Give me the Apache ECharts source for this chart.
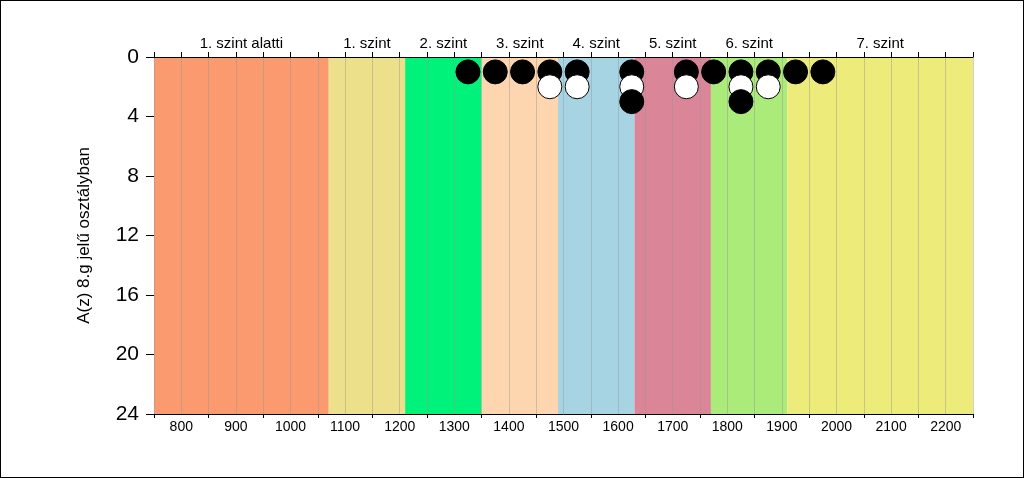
<!DOCTYPE html>
<html>
<head>
<meta charset="utf-8">
<script src="https://cdn.jsdelivr.net/npm/echarts@6/dist/echarts.min.js"></script>
<style>
  html, body { margin: 0; padding: 0; background: #fff; }
  #chart {
    width: 1024px;
    height: 478px;
    box-sizing: border-box;
    border: 1px solid #000;
  }
</style>
</head>
<body>
<div id="chart"></div>
<script>
// szintek (sávok)
const bandNames = ['1. szint alatti', '1. szint', '2. szint', '3. szint', '4. szint', '5. szint', '6. szint', '7. szint'];
const bandEdges = [750, 1070, 1210, 1350, 1490, 1630, 1770, 1910, 2250];
const bandColors = ['#FA9A6E', '#EDE08A', '#00F27A', '#FDD5AE', '#A6D4E3', '#DB8598', '#ABEB7A', '#EDEB7A'];

// tanulók (pontok): x = képességpont, y = sor
const row1Black = [1325, 1375, 1425, 1475, 1525, 1625, 1725, 1775, 1825, 1875, 1925, 1975];
const row2White = [1475, 1525, 1625, 1725, 1825, 1875];
const row3Black = [1625, 1825];

// tengely feliratok
const xLabels = [800, 900, 1000, 1100, 1200, 1300, 1400, 1500, 1600, 1700, 1800, 1900, 2000, 2100, 2200];
const yLabels = [0, 4, 8, 12, 16, 20, 24];

const xMin = bandEdges[0];
const xMax = bandEdges[bandEdges.length - 1];
// alsó tengely osztásai a feliratok között
const xBottomTicks = [xMin].concat(xLabels.map(v => v + 50));

const font = 'Liberation Sans, Arial, sans-serif';

let myChart = echarts.init(document.getElementById('chart'));

myChart.setOption({
  animation: false,
  grid: {
    left: 153,
    right: 50,
    top: 56,
    bottom: 63,
  },
  xAxis: [
    {
      type: 'value',
      position: 'bottom',
      min: xMin,
      max: xMax,
      interval: 50,
      axisLine: { show: true, onZero: false, lineStyle: { color: '#000', width: 1 } },
      axisTick: {
        show: true,
        length: 4,
        customValues: xBottomTicks,
        lineStyle: { color: '#000' }
      },
      axisLabel: {
        customValues: xLabels,
        formatter: v => String(v),
        color: '#000',
        fontSize: 14,
        fontFamily: font,
        margin: 6,
      },
      splitLine: { show: false },
    },
    {
      type: 'value',
      position: 'top',
      min: xMin,
      max: xMax,
      interval: 50,
      z: 2,
      axisLine: { show: true, onZero: false, lineStyle: { color: '#000', width: 1 } },
      axisTick: { show: true, length: 5, lineStyle: { color: '#000' } },
      axisLabel: { show: false },
      splitLine: { show: true, lineStyle: { color: 'rgba(150,150,150,0.45)', width: 1 } },
    }
  ],
  yAxis: {
    type: 'value',
    inverse: true,
    min: yLabels[0],
    max: yLabels[yLabels.length - 1],
    interval: 4,
    name: 'A(z) 8.g jelű osztályban',
    nameLocation: 'middle',
    nameRotate: 90,
    nameGap: 61,
    nameTextStyle: { color: '#000', fontSize: 17, fontFamily: font },
    axisLine: { show: true, lineStyle: { color: '#000', width: 1 } },
    axisTick: { show: true, length: 8, lineStyle: { color: '#000' } },
    axisLabel: { color: '#000', fontSize: 21, fontFamily: font, margin: 15 },
    splitLine: { show: false },
  },
  series: [
    {
      // színes sávok
      type: 'scatter',
      z: 1,
      data: [],
      markArea: {
        silent: true,
        label: {
          show: true,
          position: 'top',
          distance: 6,
          color: '#000',
          fontSize: 15,
          fontFamily: font,
        },
        data: bandNames.map((name, i) => [
          { name: name, xAxis: bandEdges[i], itemStyle: { color: bandColors[i], opacity: 1 } },
          { xAxis: bandEdges[i + 1] }
        ])
      }
    },
    {
      type: 'scatter',
      z: 3,
      symbolSize: 24,
      itemStyle: { color: '#000', borderColor: '#000', borderWidth: 1, opacity: 1 },
      data: row1Black.map(x => [x, 1])
    },
    {
      type: 'scatter',
      z: 4,
      symbolSize: 24,
      itemStyle: { color: '#fff', borderColor: '#000', borderWidth: 1, opacity: 1 },
      data: row2White.map(x => [x, 2])
    },
    {
      type: 'scatter',
      z: 5,
      symbolSize: 24,
      itemStyle: { color: '#000', borderColor: '#000', borderWidth: 1, opacity: 1 },
      data: row3Black.map(x => [x, 3])
    }
  ]
});
</script>
</body>
</html>
